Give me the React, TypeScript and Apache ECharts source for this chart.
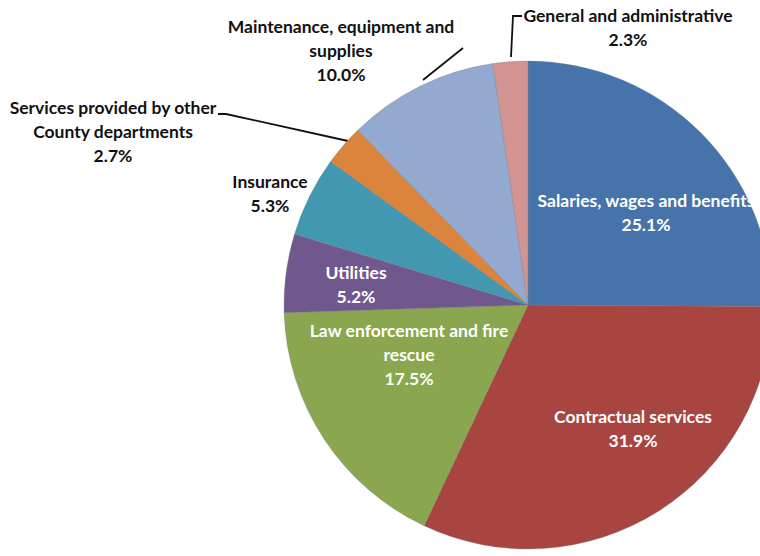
import React, { useEffect, useRef } from "react";
import * as echarts from "echarts";

const categories = [
  "Salaries, wages and benefits",
  "Contractual services",
  "Law enforcement and fire\nrescue",
  "Utilities",
  "Insurance",
  "Services provided by other\nCounty departments",
  "Maintenance, equipment and\nsupplies",
  "General and administrative",
];
const shares = [25.1, 31.9, 17.5, 5.2, 5.3, 2.7, 10.0, 2.3];
const colors = ["#4674AA", "#A84541", "#8AA64E", "#70588F", "#4298B0", "#DB843D", "#93A9D0", "#D29492"];
const insideLabel = [true, true, true, true, false, false, false, false];

// label anchor positions (px) and leader lines
const labelPos: { x: number; y: number; line?: number[][] }[] = [
  { x: 646, y: 212 },
  { x: 633, y: 428 },
  { x: 409, y: 354 },
  { x: 356, y: 284 },
  { x: 270, y: 193 },
  { x: 113, y: 131, line: [[348, 141], [226, 114], [218, 114]] },
  { x: 341, y: 50, line: [[423, 80], [463, 48]] },
  { x: 628, y: 27, line: [[511, 57], [513, 16], [522, 16]] },
];

export default function App() {
  const ref = useRef<HTMLDivElement>(null);
  useEffect(() => {
    document.body.style.margin = "0";
    const chart = echarts.init(ref.current!, null, { renderer: "svg" });
    chart.setOption({
      animation: false,
      backgroundColor: "#ffffff",
      series: [
        {
          type: "pie",
          center: [528, 305],
          radius: 244,
          startAngle: 90,
          clockwise: true,
          avoidLabelOverlap: false,
          itemStyle: { borderColor: "rgba(120,120,120,0.35)", borderWidth: 1 },
          label: {
            show: true,
            position: "outside",
            fontFamily: "Lato, 'Open Sans', sans-serif",
            fontWeight: "bold",
            fontSize: 17.5,
            lineHeight: 24,
            align: "center",
            formatter: (p: any) => `${p.name}\n${p.value.toFixed(1)}%`,
          },
          labelLine: { show: false, lineStyle: { color: "#111", width: 1.8 } },
          labelLayout: (params: any) => {
            const p = labelPos[params.dataIndex];
            const r: any = { x: p.x, y: p.y, align: "center", verticalAlign: "middle" };
            if (p.line) r.labelLinePoints = p.line;
            return r;
          },
          data: categories.map((name, i) => ({
            name,
            value: shares[i],
            itemStyle: { color: colors[i] },
            label: { color: insideLabel[i] ? "#ffffff" : "#111111" },
            labelLine: { show: !!labelPos[i].line, length: 10, length2: 10 },
          })),
        },
      ],
    });
    return () => chart.dispose();
  }, []);
  return <div ref={ref} style={{ width: 760, height: 556 }} />;
}
